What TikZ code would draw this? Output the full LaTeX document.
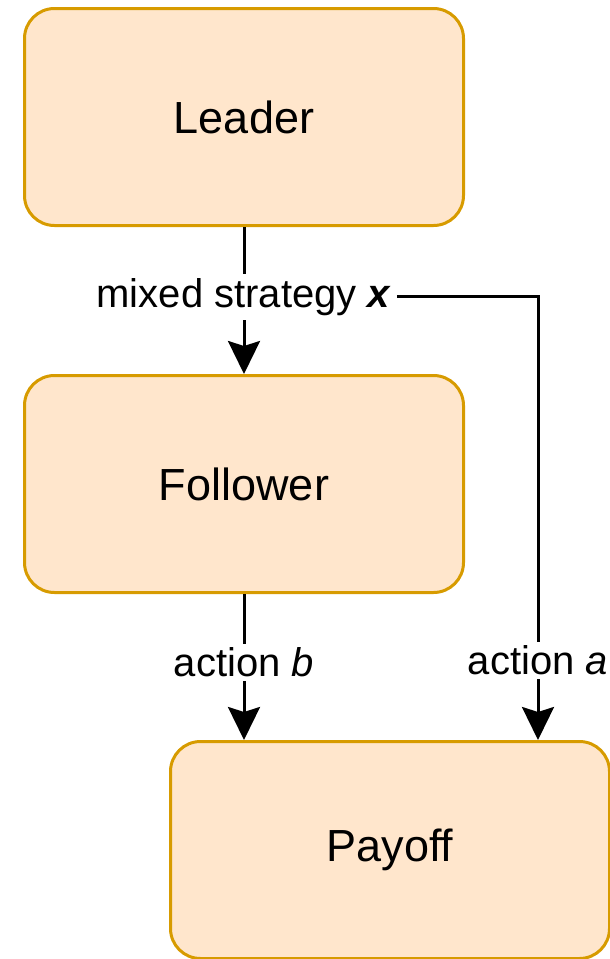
\documentclass[tikz,border=0pt]{standalone}
\usepackage{fontspec}
\setmainfont{Liberation Sans}
\usepackage{xcolor}
\definecolor{cFill}{HTML}{FFE6CC}
\definecolor{cEdge}{HTML}{D79B00}
\usetikzlibrary{positioning,arrows.meta}
\tikzset{
  node-box/.style={draw=cEdge,fill=cFill,line width=3pt,rounded corners=30pt,
    minimum width=439pt,minimum height=217pt,align=center,
    font=\fontsize{45}{54}\selectfont},
  arrow/.style={-{Stealth[length=33pt,width=32pt,inset=5pt]},line width=3pt,draw=black},
  edge-label/.style={fill=white,inner sep=4pt,font=\fontsize{40}{48}\selectfont},
}

\begin{document}
\begin{tikzpicture}[x=1pt,y=1pt,node distance=147pt]
  \useasboundingbox (0,0) rectangle (610,-959);
  \node[node-box] (lead) at (244,-117) {Leader};
  \node[node-box,below=of lead] (foll) {Follower};
  \node[node-box,below=146pt of foll,xshift=146pt] (pay) {Payoff};
  \draw[arrow] (lead) -- node[edge-label,pos=0.476] (strat) {mixed strategy \textbf{\textit{x}}} (foll);
  \draw[arrow] (strat.east) -| node[edge-label,pos=0.91] {action \textit{a}} ([xshift=-73pt]pay.north east);
  \draw[arrow] (foll) -- node[edge-label,pos=0.47] {action \textit{b}} (pay.north -| foll);
\end{tikzpicture}
\end{document}
